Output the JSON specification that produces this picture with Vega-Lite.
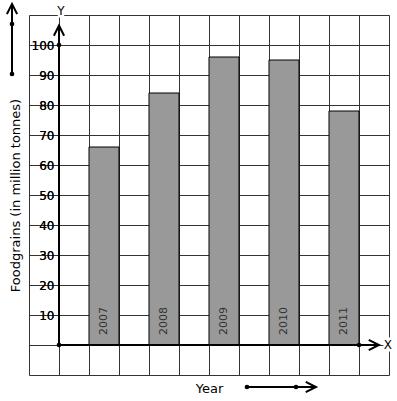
{
  "$schema": "https://vega.github.io/schema/vega-lite/v6.json",
  "width": 360,
  "height": 360,
  "autosize": {"type": "none"},
  "padding": {"left": 29, "top": 15, "right": 8, "bottom": 26},
  "background": "white",
  "config": {"font": "DejaVu Sans", "view": {"stroke": null}, "scale": {"continuousPadding": 0}},
  "datasets": {
    "bars": [
      {"year": 2007, "value": 66},
      {"year": 2008, "value": 84},
      {"year": 2009, "value": 96},
      {"year": 2010, "value": 95},
      {"year": 2011, "value": 78}
    ],
    "lines": [
      {"x": 2006.25, "y": 0, "x2": 2006.25, "y2": 106.3},
      {"x": 2006.25, "y": 0, "x2": 2011.55, "y2": 0},
      {"x": 2005.467, "y": 90.33, "x2": 2005.467, "y2": 113.5},
      {"x": 2009.383, "y": -14, "x2": 2010.5, "y2": -14}
    ],
    "dots": [
      {"x": 2006.25, "y": 0},
      {"x": 2006.25, "y": 100},
      {"x": 2011.25, "y": 0},
      {"x": 2005.467, "y": 107},
      {"x": 2005.467, "y": 90.33},
      {"x": 2009.383, "y": -14},
      {"x": 2010.2, "y": -14}
    ],
    "tips": [
      {"x": 2006.25, "y": 106.5, "dir": "up"},
      {"x": 2005.467, "y": 113.7, "dir": "up"},
      {"x": 2011.583, "y": 0, "dir": "right"},
      {"x": 2010.533, "y": -14, "dir": "right"}
    ],
    "letters": [
      {"x": 2006.283, "y": 111.3, "t": "Y"},
      {"x": 2011.733, "y": 0, "t": "X"}
    ]
  },
  "resolve": {"axis": {"x": "independent", "y": "independent"}},
  "layer": [
    {
      "data": {"name": "bars"},
      "mark": {"type": "bar", "fill": "#999999", "stroke": "black", "strokeWidth": 1, "width": 30},
      "encoding": {
        "x": {
          "field": "year", "type": "quantitative",
          "scale": {"domain": [2005.75, 2011.75], "nice": false, "zero": false, "padding": 0},
          "axis": {
            "orient": "bottom",
            "values": [2005.75, 2006.25, 2006.75, 2007.25, 2007.75, 2008.25, 2008.75, 2009.25, 2009.75, 2010.25, 2010.75, 2011.25, 2011.75],
            "grid": true, "gridColor": "#333333", "gridOpacity": 1, "gridWidth": 1,
            "labels": false, "ticks": false, "domain": false,
            "title": "Year", "titleX": 180, "titleY": 17, "titleAlign": "center", "titleBaseline": "alphabetic",
            "titleFontSize": 13, "titleFontWeight": "normal", "titleColor": "black", "titleAngle": 0
          }
        },
        "y": {
          "field": "value", "type": "quantitative",
          "scale": {"domain": [-10, 110], "nice": false, "zero": false, "padding": 0},
          "axis": {
            "orient": "left",
            "values": [-10, 0, 10, 20, 30, 40, 50, 60, 70, 80, 90, 100, 110],
            "grid": true, "gridColor": "#333333", "gridOpacity": 1, "gridWidth": 1,
            "domain": false, "ticks": false, "tickSize": 0,
            "labelExpr": "datum.value >= 10 && datum.value <= 100 ? datum.label : ''",
            "labelAlign": "right", "labelBaseline": "middle", "labelPadding": -25,
            "labelFontSize": 12, "labelColor": "black", "labelFlush": false, "labelOverlap": false, "labelBound": false,
            "encode": {"labels": {"update": {"stroke": {"value": "white"}, "strokeWidth": {"value": 5}}}},
            "title": "Foodgrains (in million tonnes)", "titleX": -10, "titleY": 180, "titleAngle": 270,
            "titleAlign": "center", "titleBaseline": "alphabetic", "titleFontSize": 13, "titleFontWeight": "normal", "titleColor": "black"
          }
        }
      }
    },
    {
      "data": {"name": "bars"},
      "mark": {"type": "text", "angle": 270, "align": "left", "baseline": "middle", "dx": 10, "fontSize": 11, "fill": "#333333"},
      "encoding": {
        "x": {"field": "year", "type": "quantitative", "scale": {"domain": [2005.75, 2011.75], "nice": false, "zero": false, "padding": 0}, "axis": null},
        "y": {"datum": 0, "type": "quantitative", "scale": {"domain": [-10, 110], "nice": false, "zero": false, "padding": 0}, "axis": null},
        "text": {"field": "year", "type": "nominal"}
      }
    },
    {
      "data": {"name": "lines"},
      "mark": {"type": "rule", "strokeWidth": 2, "color": "black"},
      "encoding": {
        "x": {"field": "x", "type": "quantitative", "scale": {"domain": [2005.75, 2011.75], "nice": false, "zero": false, "padding": 0}, "axis": null},
        "y": {"field": "y", "type": "quantitative", "scale": {"domain": [-10, 110], "nice": false, "zero": false, "padding": 0}, "axis": null},
        "x2": {"field": "x2"},
        "y2": {"field": "y2"}
      }
    },
    {
      "data": {"name": "dots"},
      "mark": {"type": "point", "filled": true, "size": 22, "color": "black", "opacity": 1},
      "encoding": {
        "x": {"field": "x", "type": "quantitative", "scale": {"domain": [2005.75, 2011.75], "nice": false, "zero": false, "padding": 0}, "axis": null},
        "y": {
          "field": "y", "type": "quantitative",
          "scale": {"domain": [-10, 110], "nice": false, "zero": false, "padding": 0},
          "axis": {
            "orient": "left",
            "values": [10, 20, 30, 40, 50, 60, 70, 80, 90, 100],
            "grid": false, "domain": false, "ticks": false, "tickSize": 0,
            "labelAlign": "right", "labelBaseline": "middle", "labelPadding": -25,
            "labelFontSize": 12, "labelColor": "black", "labelFlush": false, "labelOverlap": false, "labelBound": false,
            "title": null
          }
        }
      }
    },
    {
      "data": {"name": "tips"},
      "mark": {"type": "point", "filled": false, "size": 420, "strokeWidth": 2, "color": "black", "opacity": 1},
      "encoding": {
        "x": {"field": "x", "type": "quantitative", "scale": {"domain": [2005.75, 2011.75], "nice": false, "zero": false, "padding": 0}, "axis": null},
        "y": {"field": "y", "type": "quantitative", "scale": {"domain": [-10, 110], "nice": false, "zero": false, "padding": 0}, "axis": null},
        "shape": {
          "field": "dir", "type": "nominal",
          "scale": {"domain": ["up", "right"], "range": ["M -0.5 1 L 0 0 L 0.5 1", "M -1 -0.5 L 0 0 L -1 0.5"]},
          "legend": null
        }
      }
    },
    {
      "data": {"name": "letters"},
      "mark": {"type": "text", "fontSize": 12, "stroke": "white", "strokeWidth": 5, "fill": "white", "align": "center", "baseline": "middle"},
      "encoding": {
        "x": {"field": "x", "type": "quantitative", "scale": {"domain": [2005.75, 2011.75], "nice": false, "zero": false, "padding": 0}, "axis": null},
        "y": {"field": "y", "type": "quantitative", "scale": {"domain": [-10, 110], "nice": false, "zero": false, "padding": 0}, "axis": null},
        "text": {"field": "t", "type": "nominal"}
      }
    },
    {
      "data": {"name": "letters"},
      "mark": {"type": "text", "fontSize": 12, "fill": "black", "align": "center", "baseline": "middle"},
      "encoding": {
        "x": {"field": "x", "type": "quantitative", "scale": {"domain": [2005.75, 2011.75], "nice": false, "zero": false, "padding": 0}, "axis": null},
        "y": {"field": "y", "type": "quantitative", "scale": {"domain": [-10, 110], "nice": false, "zero": false, "padding": 0}, "axis": null},
        "text": {"field": "t", "type": "nominal"}
      }
    }
  ]
}
